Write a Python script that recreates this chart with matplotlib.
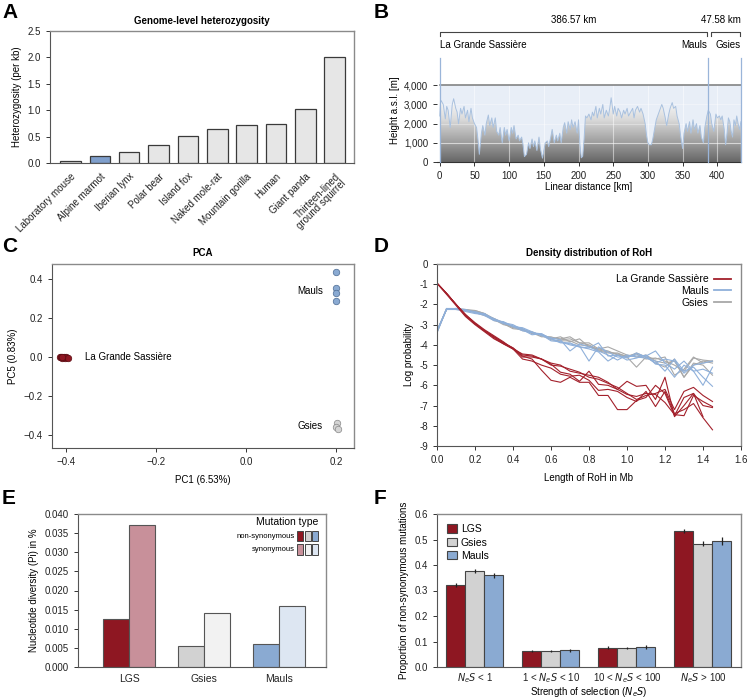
import numpy as np
import matplotlib
matplotlib.use('Agg')
import matplotlib.pyplot as plt
from matplotlib.colors import LinearSegmentedColormap
from matplotlib.patches import Rectangle
from matplotlib.ticker import FuncFormatter

plt.rcParams['font.family'] = ['Liberation Sans', 'DejaVu Sans']
plt.rcParams['font.size'] = 7
plt.rcParams['xtick.labelsize'] = 7
plt.rcParams['ytick.labelsize'] = 7
plt.rcParams['xtick.major.size'] = 3
plt.rcParams['ytick.major.size'] = 3
plt.rcParams['xtick.major.width'] = 0.7
plt.rcParams['ytick.major.width'] = 0.7

# colours
red = '#8e1722'
pink = '#c8909a'
grey = '#d2d2d2'
lightgrey = '#f2f2f2'
blue = '#8aaad2'
lightblue = '#dde6f2'

# ---- A: heterozygosity
species = ['Laboratory mouse', 'Alpine marmot', 'Iberian lynx', 'Polar bear', 'Island fox',
           'Naked mole-rat', 'Mountain gorilla', 'Human', 'Giant panda',
           'Thirteen-lined\nground squirrel']
het = [0.04, 0.13, 0.20, 0.35, 0.51, 0.65, 0.72, 0.73, 1.02, 2.00]

# ---- B: elevation profile (km, m)
profile = [(0, 2400), (1, 3100), (2, 3200), (5, 3000), (8, 2250), (10, 2900), (12, 2700), (15, 1800),
           (18, 3000), (20, 3300), (23, 2800), (25, 2600), (27, 2000), (30, 2800), (32, 2500),
           (35, 2900), (37, 2300), (40, 2700), (42, 2100), (45, 2800), (47, 2300), (50, 2000),
           (53, 1800), (55, 1200), (57, 400), (60, 1500), (62, 1900), (65, 1400), (67, 2000),
           (70, 2450), (72, 1900), (75, 2300), (77, 1800), (80, 2300), (82, 1600), (85, 1400),
           (87, 1800), (90, 1000), (93, 1800), (95, 1400), (97, 1700), (100, 1100), (103, 1800),
           (105, 1500), (107, 1900), (110, 1200), (113, 1400), (115, 1100), (118, 1300), (120, 900),
           (122, 280), (125, 400), (128, 1000), (130, 700), (133, 1200), (135, 800), (137, 1100),
           (140, 600), (143, 1300), (145, 700), (148, 200), (150, 600), (152, 1000), (155, 1100),
           (157, 800), (160, 1300), (162, 1700), (165, 1000), (168, 1400), (170, 1100), (173, 1500),
           (175, 1000), (178, 1800), (180, 2050), (183, 1500), (185, 2100), (188, 1700), (190, 2200),
           (192, 1800), (195, 2100), (198, 1500), (200, 2200), (202, 900), (204, 220), (206, 300),
           (208, 1200), (210, 2400), (212, 2300), (215, 2500), (218, 2200), (220, 2600), (222, 2400),
           (225, 2900), (227, 2300), (230, 2800), (232, 2500), (235, 3000), (237, 2300), (240, 2700),
           (243, 2400), (245, 2800), (247, 3350), (250, 2500), (252, 2900), (255, 2400), (257, 2800),
           (260, 2600), (262, 2300), (265, 2700), (267, 2500), (270, 2800), (272, 2400), (275, 2600),
           (278, 2800), (280, 2300), (282, 2700), (285, 2900), (288, 2600), (290, 2800), (293, 2500),
           (296, 2000), (298, 1400), (300, 1000), (302, 900), (305, 900), (307, 1200), (310, 1800),
           (312, 2200), (315, 2500), (318, 2800), (320, 3000), (322, 2800), (325, 2300), (327, 1900),
           (330, 2500), (332, 2800), (335, 3100), (337, 2800), (340, 2900), (342, 2400), (345, 2000),
           (347, 1400), (350, 700), (352, 1500), (355, 2000), (357, 1600), (360, 2100), (362, 1500),
           (365, 2200), (367, 1700), (370, 2000), (372, 1500), (375, 1900), (377, 1300), (380, 1000),
           (382, 1800), (385, 2400), (387, 2700), (390, 2500), (392, 2000), (395, 1600), (398, 2500),
           (400, 2300), (403, 2400), (405, 2200), (407, 2400), (410, 1700), (412, 900), (414, 1500),
           (416, 2300), (418, 2100), (420, 1600), (422, 1300), (424, 2200), (426, 1900), (428, 2400),
           (430, 2000), (432, 1700), (434, 2100)]
site_km = [0, 386.57, 434.15]
site_names = ['La Grande Sassière', 'Mauls', 'Gsies']

# ---- C: PCA
lgs_pc1 = [-0.415, -0.412, -0.409, -0.406, -0.403, -0.400, -0.397, -0.410]
lgs_pc5 = [0.000, 0.002, -0.002, 0.001, -0.001, 0.000, -0.004, 0.003]
mauls_pc1 = [0.200, 0.199, 0.201, 0.199]
mauls_pc5 = [0.435, 0.356, 0.327, 0.288]
gsies_pc1 = [0.203, 0.201, 0.204]
gsies_pc5 = [-0.338, -0.355, -0.368]

# ---- D: RoH density
roh_len = [0.00, 0.05, 0.10, 0.15, 0.20, 0.25, 0.30, 0.35, 0.40, 0.45, 0.50, 0.55, 0.60, 0.65, 0.70,
           0.75, 0.80, 0.85, 0.90, 0.95, 1.00, 1.05, 1.10, 1.15, 1.20, 1.25, 1.30, 1.35, 1.40, 1.45]
roh_lgs = [
    [-0.95, -1.45, -2.0, -2.55, -2.95, -3.3, -3.6, -3.9, -4.15, -4.6, -4.6, -4.7, -5.0, -5.05, -5.2,
     -5.35, -5.6, -5.7, -5.9, -6.1, -6.4, -6.7, -6.5, -6.4, -6.2, -7.2, -6.3, -6.1, -6.5, -6.8],
    [-0.95, -1.45, -2.0, -2.5, -2.9, -3.25, -3.55, -3.85, -4.2, -4.45, -4.5, -4.7, -4.95, -5.35, -5.45,
     -5.8, -5.3, -5.95, -6.0, -6.2, -5.8, -6.05, -6.0, -6.7, -5.6, -7.55, -7.0, -6.4, -7.0, -7.1],
    [-0.95, -1.5, -2.05, -2.6, -3.0, -3.35, -3.7, -3.95, -4.2, -4.7, -4.8, -5.0, -5.15, -5.45, -5.55,
     -5.5, -5.75, -6.25, -6.2, -6.3, -6.6, -6.8, -6.3, -7.05, -6.3, -7.4, -7.2, -6.9, -7.6, -8.2],
    [-0.95, -1.45, -2.0, -2.55, -2.95, -3.3, -3.65, -3.95, -4.2, -4.55, -4.7, -5.25, -5.75, -5.85, -5.6,
     -5.85, -5.85, -6.5, -6.5, -7.2, -7.2, -6.75, -6.6, -6.0, -6.4, -7.5, -6.6, -6.4, -7.55, np.nan],
    [-0.95, -1.45, -2.0, -2.5, -2.95, -3.3, -3.6, -3.9, -4.15, -4.5, -4.55, -4.7, -4.9, -5.0, -5.3,
     -5.4, -5.5, -5.6, -5.85, -6.2, -6.45, -6.55, -6.4, -6.45, -6.85, -7.45, -7.5, -6.5, -6.8, -7.05],
]
roh_mauls = [
    [-3.3, -2.25, -2.2, -2.3, -2.4, -2.45, -2.75, -2.95, -3.05, -3.2, -3.4, -3.45, -3.7, -3.85, -3.95,
     -4.05, -4.8, -4.1, -4.35, -4.6, -4.6, -4.5, -4.55, -4.3, -4.9, -5.2, -4.8, -5.3, -6.0, -5.1],
    [-3.4, -2.25, -2.2, -2.25, -2.4, -2.55, -2.8, -2.85, -3.1, -3.15, -3.35, -3.55, -3.65, -3.75, -4.3,
     -3.95, -4.1, -4.3, -4.5, -4.75, -4.5, -4.6, -4.65, -4.8, -5.3, -4.7, -5.3, -5.1, -5.6, -6.05],
    [-3.35, -2.2, -2.2, -2.3, -2.35, -2.5, -2.7, -2.9, -3.0, -3.25, -3.5, -3.45, -3.7, -3.9, -3.9,
     -4.1, -4.15, -3.9, -4.55, -4.5, -4.65, -4.4, -4.6, -4.9, -4.7, -4.8, -5.4, -5.0, -4.9, -4.8],
    [-3.3, -2.25, -2.25, -2.35, -2.45, -2.5, -2.75, -2.9, -3.1, -3.3, -3.4, -3.5, -3.8, -3.85, -4.0,
     -4.1, -4.2, -4.35, -4.8, -4.5, -4.75, -4.65, -4.5, -4.95, -5.0, -5.6, -5.0, -5.3, -5.2, -5.4],
]
roh_gsies = [
    [-3.3, -2.25, -2.2, -2.25, -2.3, -2.45, -2.7, -2.95, -3.2, -3.25, -3.4, -3.5, -3.65, -3.7, -3.6,
     -3.9, -3.9, -4.2, -4.3, -4.5, -4.6, -4.4, -4.6, -4.7, -4.6, -5.5, -5.2, -4.6, -4.9, -4.8],
    [-3.35, -2.25, -2.2, -2.3, -2.4, -2.55, -2.7, -2.9, -3.1, -3.3, -3.35, -3.55, -3.7, -3.6, -3.85,
     -3.7, -4.1, -4.2, -4.1, -4.3, -4.5, -4.6, -4.5, -4.8, -4.9, -4.8, -5.6, -4.9, -5.0, -5.5],
    [-3.4, -2.2, -2.25, -2.25, -2.35, -2.5, -2.8, -2.9, -3.15, -3.2, -3.45, -3.5, -3.75, -3.8, -3.8,
     -4.0, -4.05, -4.3, -4.4, -4.4, -4.6, -5.1, -4.6, -4.9, -5.1, -4.7, -5.6, -5.0, -4.8, -4.9],
    [-3.3, -2.25, -2.2, -2.3, -2.3, -2.45, -2.75, -3.0, -3.1, -3.25, -3.4, -3.6, -3.6, -3.75, -3.7,
     -3.9, -4.0, -4.25, -4.35, -4.45, -4.55, -4.45, -4.7, -4.65, -4.8, -5.0, -5.3, -4.65, -4.75, -4.8],
]

# ---- E: nucleotide diversity
pops_e = ['LGS', 'Gsies', 'Mauls']
pi_nonsyn = [0.0125, 0.0056, 0.0061]
pi_syn = [0.0370, 0.0141, 0.0159]

# ---- F: DFE
sel_classes = ['$N_eS$ < 1', '1 < $N_eS$ < 10', '10 < $N_eS$ < 100', '$N_eS$ > 100']
dfe_lgs = [0.322, 0.063, 0.076, 0.533]
dfe_gsies = [0.377, 0.063, 0.074, 0.483]
dfe_mauls = [0.360, 0.066, 0.078, 0.493]
err_lgs = [0.007, 0.005, 0.006, 0.008]
err_gsies = [0.009, 0.004, 0.005, 0.010]
err_mauls = [0.010, 0.006, 0.008, 0.015]

W, H = 747, 699
fig = plt.figure(figsize=(W / 100, H / 100), dpi=100)


def box(l, t, r, b):
    return [l / W, 1 - b / H, (r - l) / W, (b - t) / H]


def frame(ax):
    for s in ['left', 'bottom']:
        ax.spines[s].set_color('#555555')
        ax.spines[s].set_linewidth(0.8)
    for s in ['top', 'right']:
        ax.spines[s].set_color('#8a8a8a')
        ax.spines[s].set_linewidth(1.0)
    ax.tick_params(colors='#333333', labelcolor='#222222')


def letter(x, y, s):
    fig.text(x / W, 1 - y / H, s, fontsize=15, fontweight='bold', va='center', ha='left')


# ===== A
axA = fig.add_axes(box(50, 31, 354, 163))
xa = np.arange(len(species))
colA = ['#e6e6e6'] * len(species)
colA[1] = '#7f9fcc'
axA.bar(xa, het, width=0.7, color=colA, edgecolor='#3a3a3a', linewidth=0.9)
axA.set_xlim(-0.7, 9.66)
axA.set_ylim(0, 2.5)
axA.set_yticks([0, 0.5, 1.0, 1.5, 2.0, 2.5])
axA.yaxis.set_major_formatter(FuncFormatter(lambda v, p: '%.1f' % v))
axA.set_xticks(xa)
axA.set_xticklabels(species, rotation=45, ha='right', rotation_mode='anchor', linespacing=0.9)
axA.get_xticklabels()[1].set_color('#8aaad6')
axA.tick_params(axis='x', length=0, pad=6)
axA.set_ylabel('Heterozygosity (per kb)', labelpad=4)
axA.set_title('Genome-level heterozygosity', fontsize=7, fontweight='bold', pad=5)
frame(axA)
letter(2, 13, 'A')

# ===== B
axB = fig.add_axes(box(437, 58, 741, 162))
km = [p[0] for p in profile]
hm = [p[1] for p in profile]
ytop = 5424
axB.set_xlim(-4, 434.15)
axB.set_ylim(0, ytop)
axB.axhspan(0, 4000, xmin=4 / 438.15, color='#e8eef7', zorder=0)
fill = axB.fill_between(km, hm, 0, color='none', zorder=1)
cmap = LinearSegmentedColormap.from_list('hill', ['#666666', '#a2a2a2', '#dadada', '#fdfdfd'])
grad = np.linspace(0, 1, 256).reshape(-1, 1)
im = axB.imshow(grad, extent=[0, 434.15, 0, 3300], origin='lower', aspect='auto', cmap=cmap, zorder=1)
im.set_clip_path(fill.get_paths()[0], transform=axB.transData)
for g in [1000, 2000, 3000]:
    axB.plot([0, 434.15], [g, g], color='white', lw=0.8, alpha=0.6 if g == 1000 else 0.35, zorder=2)
for g in range(50, 434, 50):
    axB.plot([g, g], [0, 4000], color='white', lw=0.8, alpha=0.5, zorder=2)
axB.plot(km, hm, color='#a9c1df', lw=0.7, zorder=3)
axB.plot([0, 434.15], [4000, 4000], color='#7a7a7a', lw=1.1, zorder=3)
for s in site_km:
    axB.plot([s, s], [0, ytop], color='#9ab5d9', lw=0.9, zorder=4, clip_on=False)
for s in ['top', 'right', 'left']:
    axB.spines[s].set_visible(False)
axB.spines['bottom'].set_color('#333333')
axB.set_xticks(range(0, 401, 50))
axB.set_yticks([0, 1000, 2000, 3000, 4000])
axB.yaxis.set_major_formatter(FuncFormatter(lambda v, p: '{:,}'.format(int(v))))
axB.tick_params(colors='#333333', labelcolor='#222222')
axB.set_xlabel('Linear distance [km]', labelpad=1)
axB.set_ylabel('Height a.s.l. [m]', labelpad=3)
axB.text(0, 6120, site_names[0], ha='left', va='center', fontsize=7)
axB.text(site_km[1] - 1, 6120, site_names[1], ha='right', va='center', fontsize=7)
axB.text(site_km[2] - 1, 6120, site_names[2], ha='right', va='center', fontsize=7)
yb = 6760
for a, b in [(site_km[0] + 1, site_km[1] - 1), (site_km[1] + 4, site_km[2] - 1)]:
    axB.plot([a, a, b, b], [yb - 180, yb, yb, yb - 180], color='#444444', lw=0.8, clip_on=False)
axB.text((site_km[0] + site_km[1]) / 2, 7390, '%.2f km' % (site_km[1] - site_km[0]),
         ha='center', va='center', fontsize=7)
axB.text(site_km[2], 7390, '%.2f km' % (site_km[2] - site_km[1]), ha='right', va='center', fontsize=7)
letter(374, 13, 'B')

# ===== C
axC = fig.add_axes(box(52, 264, 354, 448))
axC.scatter(lgs_pc1, lgs_pc5, s=22, color=red, edgecolor='#5a0d12', linewidth=0.5, zorder=3)
axC.scatter(mauls_pc1, mauls_pc5, s=22, color=blue, edgecolor='#4d6c93', linewidth=0.5, zorder=3)
axC.scatter(gsies_pc1, gsies_pc5, s=22, color='#d4d4d4', edgecolor='#888888', linewidth=0.5, zorder=3)
axC.set_xlim(-0.432, 0.24)
axC.set_ylim(-0.464, 0.478)
axC.set_xticks([-0.4, -0.2, 0.0, 0.2])
axC.set_yticks([-0.4, -0.2, 0.0, 0.2, 0.4])
axC.xaxis.set_major_formatter(FuncFormatter(lambda v, p: ('%.1f' % v).replace('-', '\u2212')))
axC.yaxis.set_major_formatter(FuncFormatter(lambda v, p: ('%.1f' % v).replace('-', '\u2212')))
axC.text(-0.359, 0.0, 'La Grande Sassière', ha='left', va='center', fontsize=7)
axC.text(0.171, 0.339, 'Mauls', ha='right', va='center', fontsize=7)
axC.text(0.171, -0.351, 'Gsies', ha='right', va='center', fontsize=7)
axC.set_xlabel('PC1 (6.53%)', labelpad=6)
axC.set_ylabel('PC5 (0.83%)', labelpad=4)
axC.set_title('PCA', fontsize=7, fontweight='bold', pad=6)
frame(axC)
letter(2, 247, 'C')

# ===== D
axD = fig.add_axes(box(437, 264, 741, 446))
for i, ln in enumerate(roh_gsies):
    axD.plot(roh_len, ln, color='#a8a8a8', lw=0.8, label='Gsies' if i == 0 else None)
for i, ln in enumerate(roh_mauls):
    axD.plot(roh_len, ln, color='#8fb0da', lw=0.8, label='Mauls' if i == 0 else None)
for i, ln in enumerate(roh_lgs):
    axD.plot(roh_len, ln, color='#a3202b', lw=0.8, label='La Grande Sassière' if i == 0 else None)
axD.set_xlim(0, 1.6)
axD.set_ylim(-9, 0)
axD.set_xticks([0, 0.2, 0.4, 0.6, 0.8, 1.0, 1.2, 1.4, 1.6])
axD.xaxis.set_major_formatter(FuncFormatter(lambda v, p: '%.1f' % v))
axD.set_yticks(range(-9, 1))
axD.set_yticklabels([str(v) for v in range(-9, 1)])
hd, lb = axD.get_legend_handles_labels()
legD = axD.legend([hd[2], hd[1], hd[0]], [lb[2], lb[1], lb[0]], loc='upper right', frameon=False,
                  markerfirst=False, handlelength=1.6, labelspacing=0.15, fontsize=7.5,
                  borderaxespad=0.6, handletextpad=0.5)
for h in legD.get_lines():
    h.set_linewidth(1.3)
axD.set_xlabel('Length of RoH in Mb', labelpad=6)
axD.set_ylabel('Log probability', labelpad=4)
axD.set_title('Density distribution of RoH', fontsize=7, fontweight='bold', pad=6)
frame(axD)
letter(374, 247, 'D')

# ===== E
axE = fig.add_axes(box(78, 514, 326, 667))
xe = np.arange(len(pops_e))
bw = 0.345
colE_n = [red, grey, blue]
colE_s = [pink, lightgrey, lightblue]
axE.bar(xe - bw / 2, pi_nonsyn, width=bw, color=colE_n, edgecolor='#555555', linewidth=0.8)
axE.bar(xe + bw / 2, pi_syn, width=bw, color=colE_s, edgecolor='#555555', linewidth=0.8)
axE.set_xlim(-0.68, 2.62)
axE.set_ylim(0, 0.040)
axE.set_yticks(np.arange(0, 0.0401, 0.005))
axE.yaxis.set_major_formatter(FuncFormatter(lambda v, p: '%.3f' % v))
axE.set_xticks(xe)
axE.set_xticklabels(pops_e, fontsize=7.5)
axE.tick_params(axis='x', length=0, pad=5)
axE.set_ylabel('Nucleotide diversity (Pi) in %', labelpad=4)
axE.text(0.968, 0.948, 'Mutation type', transform=axE.transAxes, ha='right', va='center', fontsize=7.5)
sq_x = [0.885, 0.915, 0.945]
for yy, lab, cols in [(0.856, 'non-synonymous', colE_n), (0.769, 'synonymous', colE_s)]:
    axE.text(0.875, yy, lab, transform=axE.transAxes, ha='right', va='center', fontsize=5.5)
    for x0, c in zip(sq_x, cols):
        axE.add_patch(Rectangle((x0, yy - 0.035), 0.024, 0.07, transform=axE.transAxes,
                                facecolor=c, edgecolor='#444444', linewidth=0.7))
frame(axE)
letter(2, 498, 'E')

# ===== F
axF = fig.add_axes(box(437, 514, 741, 667))
xf = np.arange(len(sel_classes))
wf = 0.25
for off, vals, errs, c, lab in [(-wf, dfe_lgs, err_lgs, red, 'LGS'),
                                (0, dfe_gsies, err_gsies, grey, 'Gsies'),
                                (wf, dfe_mauls, err_mauls, blue, 'Mauls')]:
    axF.bar(xf + off, vals, width=wf, color=c, edgecolor='#444444', linewidth=0.8, label=lab)
    axF.errorbar(xf + off, vals, yerr=errs, fmt='none', ecolor='#222222', elinewidth=0.9, capsize=0)
axF.set_xlim(-0.5, 3.5)
axF.set_ylim(0, 0.6)
axF.set_yticks([0, 0.1, 0.2, 0.3, 0.4, 0.5, 0.6])
axF.yaxis.set_major_formatter(FuncFormatter(lambda v, p: '%.1f' % v))
axF.set_xticks(xf)
axF.set_xticklabels(sel_classes)
axF.tick_params(axis='x', length=0, pad=3)
axF.legend(loc='upper left', frameon=False, fontsize=7.5, handlelength=0.9, handleheight=0.9,
           labelspacing=0.3, handletextpad=0.4, borderaxespad=0.6)
axF.set_xlabel('Strength of selection ($N_eS$)', labelpad=0)
axF.set_ylabel('Proportion of non-synonymous mutations', labelpad=4)
frame(axF)
letter(374, 498, 'F')

fig.savefig('out.png', dpi=100)
